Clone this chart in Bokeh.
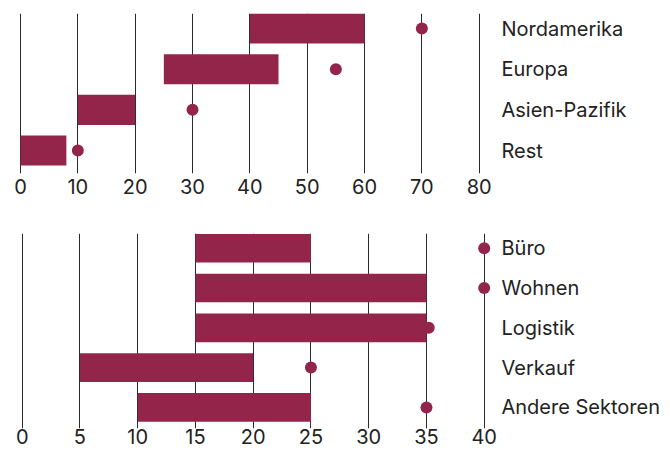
from bokeh.plotting import figure
from bokeh.layouts import column
from bokeh.models import FixedTicker, LinearAxis, Range1d
from bokeh.embed import file_html
from bokeh.resources import INLINE

# Top panel: regions
regions = ["Nordamerika", "Europa", "Asien-Pazifik", "Rest"]
region_start = [40, 25, 10, 0]
region_end = [60, 45, 20, 8]
region_dot = [70, 55, 30, 10]
region_ticks = [0, 10, 20, 30, 40, 50, 60, 70, 80]

# Bottom panel: sectors
sectors = ["Büro", "Wohnen", "Logistik", "Verkauf", "Andere Sektoren"]
sector_start = [15, 15, 15, 5, 10]
sector_end = [25, 35, 35, 20, 25]
sector_dot = [40, 40, 35.2, 25, 35]
sector_ticks = [0, 5, 10, 15, 20, 25, 30, 35, 40]

BAR = "#94254A"
GRID = "#2a2a2a"
TEXT = "#222222"
FONT = "Inter"

# shared frame edges (pixels)
FL, FR = 10, 494


def make_panel(cats, start, end, dot, ticks, x_lo, x_hi, height, top_b, bottom_b,
               y_lo, y_hi, bar_h, tick_standoff):
    n = len(cats)
    ys = [n - 1 - i for i in range(n)]
    p = figure(width=670, height=height, output_backend="svg", toolbar_location=None,
               x_range=Range1d(x_lo, x_hi), y_range=Range1d(y_lo, y_hi),
               min_border_left=FL, min_border_right=670 - FR,
               min_border_top=top_b, min_border_bottom=bottom_b,
               y_axis_location=None)
    p.outline_line_color = None
    p.background_fill_color = "white"
    p.border_fill_color = "white"

    xa = p.xaxis[0]
    xa.ticker = FixedTicker(ticks=ticks)
    xa.axis_line_color = None
    xa.major_tick_line_color = None
    xa.minor_tick_line_color = None
    xa.major_tick_out = 0
    xa.major_tick_in = 0
    xa.major_label_standoff = tick_standoff
    xa.major_label_text_font = FONT
    xa.major_label_text_font_size = "20px"
    xa.major_label_text_color = TEXT

    p.xgrid.ticker = FixedTicker(ticks=ticks)
    p.xgrid.grid_line_color = GRID
    p.xgrid.grid_line_width = 1
    p.ygrid.grid_line_color = None

    ra = LinearAxis(ticker=FixedTicker(ticks=ys),
                    major_label_overrides={y: c for y, c in zip(ys, cats)})
    ra.axis_line_color = None
    ra.major_tick_line_color = None
    ra.minor_tick_line_color = None
    ra.major_tick_out = 0
    ra.major_tick_in = 0
    ra.major_label_standoff = 7
    ra.major_label_text_font = FONT
    ra.major_label_text_font_size = "20px"
    ra.major_label_text_color = TEXT
    p.add_layout(ra, "right")

    p.hbar(y=ys, left=start, right=end, height=bar_h, color=BAR, line_color=None)
    p.scatter(x=dot, y=ys, size=12, color=BAR, line_color=None)
    return p


# top: 0 at x=20px, 80 at x=478.7px
ppu_t = (478.7 - 20) / 80
top = make_panel(regions, region_start, region_end, region_dot, region_ticks,
                 -(20 - FL) / ppu_t, 80 + (FR - 478.7) / ppu_t,
                 height=210, top_b=13, bottom_b=37, y_lo=-0.565, y_hi=3.37,
                 bar_h=0.74, tick_standoff=5)
# bottom: 0 at x=21.7px, 40 at x=483.7px
ppu_b = (483.7 - 21.7) / 40
bottom = make_panel(sectors, sector_start, sector_end, sector_dot, sector_ticks,
                    -(21.7 - FL) / ppu_b, 40 + (FR - 483.7) / ppu_b,
                    height=242, top_b=23, bottom_b=24, y_lo=-0.53, y_hi=4.37,
                    bar_h=0.72, tick_standoff=0)

layout = column(top, bottom, spacing=0)
open("out.html", "w").write(file_html(layout, INLINE))
